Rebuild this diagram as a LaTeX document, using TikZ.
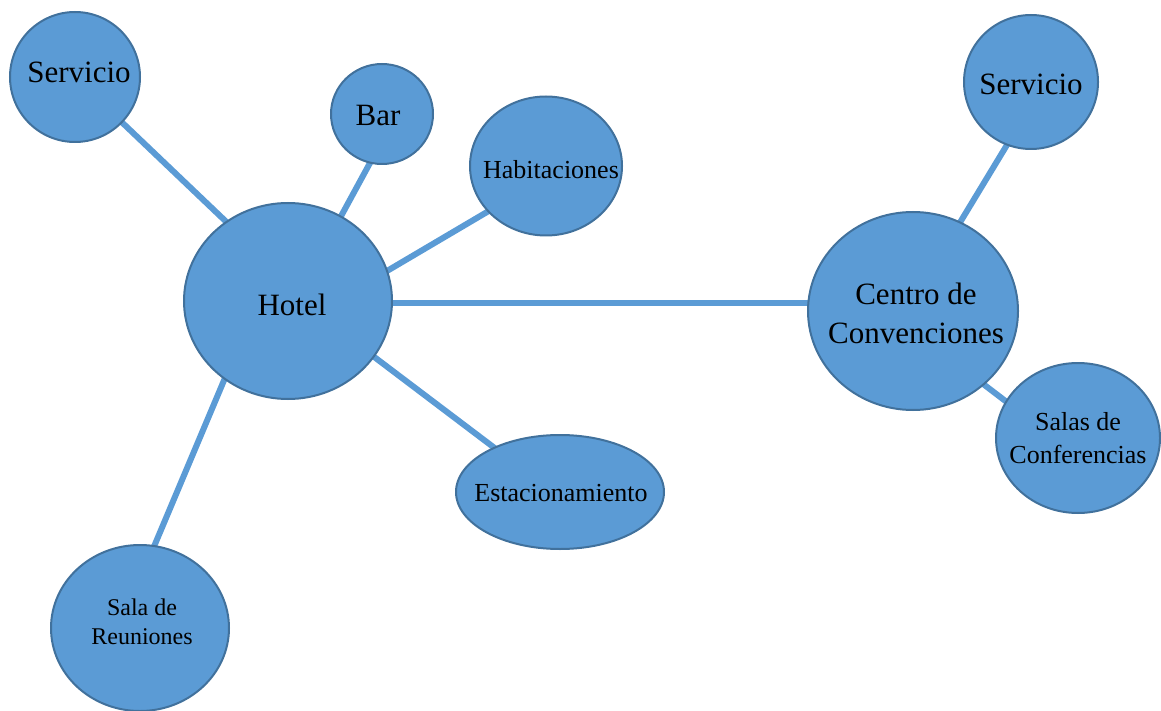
\documentclass[tikz,border=0pt]{standalone}
\usepackage{fontspec}
\setmainfont{Liberation Serif}
\usetikzlibrary{shapes.geometric,backgrounds}
\definecolor{fillblue}{HTML}{5B9BD5}
\definecolor{edgeblue}{HTML}{41719C}
\begin{document}
\begin{tikzpicture}[x=1pt,y=-1pt,
  bubble/.style={ellipse,draw=edgeblue,line width=2pt,fill=fillblue,inner sep=0pt},
  txt/.style={inner sep=0pt,align=center,text=black},
  big/.style={txt,font=\fontsize{31}{39}\selectfont},
  small/.style={txt,font=\fontsize{26}{33}\selectfont},
  smaller/.style={txt,font=\fontsize{24}{29}\selectfont},
  link/.style={draw=fillblue,line width=6pt,shorten <=-4pt,shorten >=-4pt}]
\useasboundingbox (0,0) rectangle (1161,711);
\node[bubble,minimum width=208pt,minimum height=196pt] (hotel) at (288,301) {};
\node[bubble,minimum width=130pt,minimum height=130pt] (serv1) at (75,77) {};
\node[bubble,minimum width=102pt,minimum height=100pt] (bar) at (382,114) {};
\node[bubble,minimum width=152pt,minimum height=139pt] (hab) at (546,166) {};
\node[bubble,minimum width=208pt,minimum height=114pt] (est) at (560,492) {};
\node[bubble,minimum width=178pt,minimum height=166pt] (sala) at (140,628) {};
\node[bubble,minimum width=210pt,minimum height=198pt] (centro) at (913,311) {};
\node[bubble,minimum width=134pt,minimum height=134pt] (serv2) at (1031,82) {};
\node[bubble,minimum width=164pt,minimum height=150pt] (conf) at (1078,438) {};
\node[big] (hotel-t) at (292,305) {Hotel};
\node[big] (serv1-t) at (79,72) {Servicio};
\node[big] (bar-t) at (378,116) {Bar};
\node[small] (hab-t) at (551,170) {Habitaciones};
\node[small] (est-t) at (561,493) {Estacionamiento};
\node[smaller] (sala-t) at (142,622) {Sala de\\Reuniones};
\node[big] (centro-t) at (916,313) {Centro de\\Convenciones};
\node[big] (serv2-t) at (1031,84) {Servicio};
\node[small] (conf-t) at (1078,438) {Salas de\\Conferencias};
\begin{scope}[on background layer]
  \draw[link] (hotel.128) -- (serv1.-44);
  \draw[link] (hotel.58) -- (bar.-104);
  \draw[link] (hotel.17) -- (hab.-142);
  \draw[link] (hotel.-33) -- (est.146);
  \draw[link] (hotel.-129) -- (sala.80);
  \draw[link] ([yshift=-2pt]hotel.east) -- ([yshift=-2pt]hotel.east -| centro.west);
  \draw[link] (centro.62) -- (serv2.-111);
  \draw[link] (centro.-46) -- (conf.153);
\end{scope}
\end{tikzpicture}
\end{document}
